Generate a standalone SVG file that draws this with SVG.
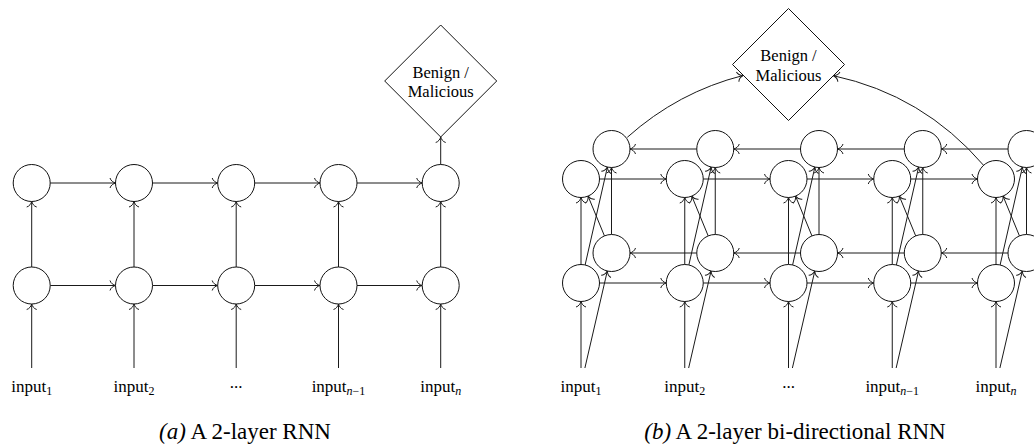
<svg xmlns="http://www.w3.org/2000/svg" width="1034" height="445" viewBox="0 0 1034 445">
<style>
.n{fill:#fff;stroke:#111;stroke-width:1}
.c{fill:none;stroke:#1a1a1a;stroke-width:1;marker-end:url(#arr)}
.t{font-family:"Liberation Serif","Times New Roman",serif;font-size:16.5px;fill:#000;text-anchor:middle}
.lb{font-family:"Liberation Serif","Times New Roman",serif;font-size:17px;fill:#000;text-anchor:middle}
.sub{font-size:12px}
.cap{font-family:"Liberation Serif","Times New Roman",serif;font-size:23px;fill:#000;text-anchor:middle}
</style>
<defs>
<marker id="arr" markerUnits="userSpaceOnUse" markerWidth="14" markerHeight="14" viewBox="-7 -7 9 14" refX="0" refY="0" orient="auto" overflow="visible">
<path d="M-5.5,-5 C-4.8,-2.2 -2,-0.6 0,0 C-2,0.6 -4.8,2.2 -5.5,5" fill="none" stroke="#1a1a1a" stroke-width="1"/>
</marker>
</defs>
<rect width="1034" height="445" fill="#fff"/>

<g id="connectors">
<!-- left: inputs -->
<line class="c" x1="31.7" y1="368" x2="31.7" y2="304"/>
<line class="c" x1="134" y1="368" x2="134" y2="304"/>
<line class="c" x1="236.2" y1="368" x2="236.2" y2="304"/>
<line class="c" x1="338.5" y1="368" x2="338.5" y2="304"/>
<line class="c" x1="440.7" y1="368" x2="440.7" y2="304"/>
<!-- left: layer1 to layer2 -->
<line class="c" x1="31.7" y1="267" x2="31.7" y2="201.5"/>
<line class="c" x1="134" y1="267" x2="134" y2="201.5"/>
<line class="c" x1="236.2" y1="267" x2="236.2" y2="201.5"/>
<line class="c" x1="338.5" y1="267" x2="338.5" y2="201.5"/>
<line class="c" x1="440.7" y1="267" x2="440.7" y2="201.5"/>
<!-- left: recurrent layer1 -->
<line class="c" x1="50.2" y1="285.5" x2="115.5" y2="285.5"/>
<line class="c" x1="152.5" y1="285.5" x2="217.7" y2="285.5"/>
<line class="c" x1="254.7" y1="285.5" x2="320" y2="285.5"/>
<line class="c" x1="357" y1="285.5" x2="422.2" y2="285.5"/>
<!-- left: recurrent layer2 -->
<line class="c" x1="50.2" y1="183" x2="115.5" y2="183"/>
<line class="c" x1="152.5" y1="183" x2="217.7" y2="183"/>
<line class="c" x1="254.7" y1="183" x2="320" y2="183"/>
<line class="c" x1="357" y1="183" x2="422.2" y2="183"/>
<!-- left: output -->
<line class="c" x1="440.7" y1="164.5" x2="440.7" y2="137"/>

<!-- right: column 1 -->
<line class="c" x1="581" y1="368" x2="581" y2="301.5"/>
<line class="c" x1="584.9" y1="368" x2="607.3" y2="271"/>
<line class="c" x1="581" y1="264.5" x2="581" y2="197.5"/>
<line class="c" x1="585.1" y1="265" x2="607.4" y2="167"/>
<line class="c" x1="604.45" y1="235.9" x2="588.05" y2="196.1"/>
<line class="c" x1="611.5" y1="234.5" x2="611.5" y2="167.5"/>
<!-- column 2 -->
<line class="c" x1="684.75" y1="368" x2="684.75" y2="301.5"/>
<line class="c" x1="688.65" y1="368" x2="711.05" y2="271"/>
<line class="c" x1="684.75" y1="264.5" x2="684.75" y2="197.5"/>
<line class="c" x1="688.85" y1="265" x2="711.15" y2="167"/>
<line class="c" x1="708.2" y1="235.9" x2="691.8" y2="196.1"/>
<line class="c" x1="715.25" y1="234.5" x2="715.25" y2="167.5"/>
<!-- column 3 -->
<line class="c" x1="788.5" y1="368" x2="788.5" y2="301.5"/>
<line class="c" x1="792.4" y1="368" x2="814.8" y2="271"/>
<line class="c" x1="788.5" y1="264.5" x2="788.5" y2="197.5"/>
<line class="c" x1="792.6" y1="265" x2="814.9" y2="167"/>
<line class="c" x1="811.95" y1="235.9" x2="795.55" y2="196.1"/>
<line class="c" x1="819" y1="234.5" x2="819" y2="167.5"/>
<!-- column 4 -->
<line class="c" x1="892.25" y1="368" x2="892.25" y2="301.5"/>
<line class="c" x1="896.15" y1="368" x2="918.55" y2="271"/>
<line class="c" x1="892.25" y1="264.5" x2="892.25" y2="197.5"/>
<line class="c" x1="896.35" y1="265" x2="918.65" y2="167"/>
<line class="c" x1="915.7" y1="235.9" x2="899.3" y2="196.1"/>
<line class="c" x1="922.75" y1="234.5" x2="922.75" y2="167.5"/>
<!-- column 5 -->
<line class="c" x1="996" y1="368" x2="996" y2="301.5"/>
<line class="c" x1="999.9" y1="368" x2="1022.3" y2="271"/>
<line class="c" x1="996" y1="264.5" x2="996" y2="197.5"/>
<line class="c" x1="1000.1" y1="265" x2="1022.4" y2="167"/>
<line class="c" x1="1019.45" y1="235.9" x2="1003.05" y2="196.1"/>
<line class="c" x1="1026.5" y1="234.5" x2="1026.5" y2="167.5"/>
<!-- forward layer1 -->
<line class="c" x1="599.5" y1="283" x2="666.25" y2="283"/>
<line class="c" x1="703.25" y1="283" x2="770" y2="283"/>
<line class="c" x1="807" y1="283" x2="873.75" y2="283"/>
<line class="c" x1="910.75" y1="283" x2="977.5" y2="283"/>
<!-- forward layer2 -->
<line class="c" x1="599.5" y1="179" x2="666.25" y2="179"/>
<line class="c" x1="703.25" y1="179" x2="770" y2="179"/>
<line class="c" x1="807" y1="179" x2="873.75" y2="179"/>
<line class="c" x1="910.75" y1="179" x2="977.5" y2="179"/>
<!-- backward layer1 -->
<line class="c" x1="696.75" y1="253" x2="630" y2="253"/>
<line class="c" x1="800.5" y1="253" x2="733.75" y2="253"/>
<line class="c" x1="904.25" y1="253" x2="837.5" y2="253"/>
<line class="c" x1="1008" y1="253" x2="941.25" y2="253"/>
<!-- backward layer2 -->
<line class="c" x1="696.75" y1="149" x2="630" y2="149"/>
<line class="c" x1="800.5" y1="149" x2="733.75" y2="149"/>
<line class="c" x1="904.25" y1="149" x2="837.5" y2="149"/>
<line class="c" x1="1008" y1="149" x2="941.25" y2="149"/>
<!-- outputs -->
<path class="c" d="M627.3,137.3 Q678,92 743,75.5"/>
<path class="c" d="M983.3,165 Q923,95 833.5,75.7"/>
</g>

<!-- left diagram nodes -->
<g id="L_h1_1"><circle class="n" cx="31.7" cy="285.5" r="18.5"/></g>
<g id="L_h1_2"><circle class="n" cx="134" cy="285.5" r="18.5"/></g>
<g id="L_h1_3"><circle class="n" cx="236.2" cy="285.5" r="18.5"/></g>
<g id="L_h1_4"><circle class="n" cx="338.5" cy="285.5" r="18.5"/></g>
<g id="L_h1_5"><circle class="n" cx="440.7" cy="285.5" r="18.5"/></g>
<g id="L_h2_1"><circle class="n" cx="31.7" cy="183" r="18.5"/></g>
<g id="L_h2_2"><circle class="n" cx="134" cy="183" r="18.5"/></g>
<g id="L_h2_3"><circle class="n" cx="236.2" cy="183" r="18.5"/></g>
<g id="L_h2_4"><circle class="n" cx="338.5" cy="183" r="18.5"/></g>
<g id="L_h2_5"><circle class="n" cx="440.7" cy="183" r="18.5"/></g>
<g id="L_out">
<polygon class="n" points="440.7,25 496.7,81 440.7,137 384.7,81"/>
<text class="t" x="440.7" y="77.5">Benign /</text>
<text class="t" x="440.7" y="96.5">Malicious</text>
</g>
<g id="L_in_1"><text class="lb" x="31.7" y="391.7">input<tspan class="sub" dy="3">1</tspan></text></g>
<g id="L_in_2"><text class="lb" x="134" y="391.7">input<tspan class="sub" dy="3">2</tspan></text></g>
<g id="L_in_3"><text class="lb" x="236.2" y="388">...</text></g>
<g id="L_in_4"><text class="lb" x="338.5" y="391.7">input<tspan class="sub" dy="3"><tspan font-style="italic">n</tspan>−1</tspan></text></g>
<g id="L_in_5"><text class="lb" x="440.7" y="391.7">input<tspan class="sub" dy="3" font-style="italic">n</tspan></text></g>
<g id="L_caption"><text class="cap" x="245" y="439"><tspan font-style="italic">(a)</tspan> A 2-layer RNN</text></g>

<!-- right diagram nodes -->
<g id="R_b2_1"><circle class="n" cx="611.5" cy="149" r="18.5"/></g>
<g id="R_b2_2"><circle class="n" cx="715.25" cy="149" r="18.5"/></g>
<g id="R_b2_3"><circle class="n" cx="819" cy="149" r="18.5"/></g>
<g id="R_b2_4"><circle class="n" cx="922.75" cy="149" r="18.5"/></g>
<g id="R_b2_5"><circle class="n" cx="1026.5" cy="149" r="18.5"/></g>
<g id="R_f2_1"><circle class="n" cx="581" cy="179" r="18.5"/></g>
<g id="R_f2_2"><circle class="n" cx="684.75" cy="179" r="18.5"/></g>
<g id="R_f2_3"><circle class="n" cx="788.5" cy="179" r="18.5"/></g>
<g id="R_f2_4"><circle class="n" cx="892.25" cy="179" r="18.5"/></g>
<g id="R_f2_5"><circle class="n" cx="996" cy="179" r="18.5"/></g>
<g id="R_b1_1"><circle class="n" cx="611.5" cy="253" r="18.5"/></g>
<g id="R_b1_2"><circle class="n" cx="715.25" cy="253" r="18.5"/></g>
<g id="R_b1_3"><circle class="n" cx="819" cy="253" r="18.5"/></g>
<g id="R_b1_4"><circle class="n" cx="922.75" cy="253" r="18.5"/></g>
<g id="R_b1_5"><circle class="n" cx="1026.5" cy="253" r="18.5"/></g>
<g id="R_f1_1"><circle class="n" cx="581" cy="283" r="18.5"/></g>
<g id="R_f1_2"><circle class="n" cx="684.75" cy="283" r="18.5"/></g>
<g id="R_f1_3"><circle class="n" cx="788.5" cy="283" r="18.5"/></g>
<g id="R_f1_4"><circle class="n" cx="892.25" cy="283" r="18.5"/></g>
<g id="R_f1_5"><circle class="n" cx="996" cy="283" r="18.5"/></g>
<g id="R_out">
<polygon class="n" points="788.5,8.5 844.5,64.5 788.5,120.5 732.5,64.5"/>
<text class="t" x="788.5" y="61">Benign /</text>
<text class="t" x="788.5" y="80.5">Malicious</text>
</g>
<g id="R_in_1"><text class="lb" x="581" y="391.7">input<tspan class="sub" dy="3">1</tspan></text></g>
<g id="R_in_2"><text class="lb" x="684.75" y="391.7">input<tspan class="sub" dy="3">2</tspan></text></g>
<g id="R_in_3"><text class="lb" x="788.5" y="388">...</text></g>
<g id="R_in_4"><text class="lb" x="892.25" y="391.7">input<tspan class="sub" dy="3"><tspan font-style="italic">n</tspan>−1</tspan></text></g>
<g id="R_in_5"><text class="lb" x="996" y="391.7">input<tspan class="sub" dy="3" font-style="italic">n</tspan></text></g>
<g id="R_caption"><text class="cap" x="795" y="439"><tspan font-style="italic">(b)</tspan> A 2-layer bi-directional RNN</text></g>
</svg>
